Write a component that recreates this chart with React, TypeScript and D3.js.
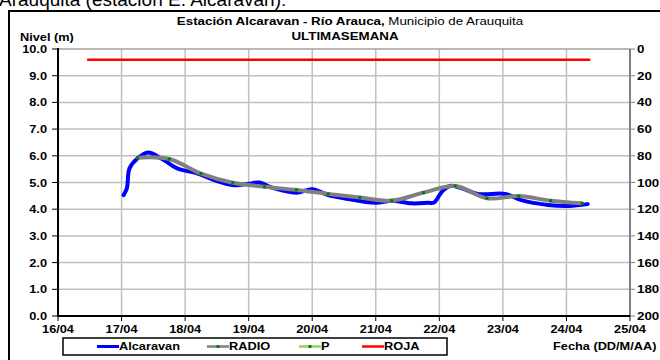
import React from "react";
import * as d3 from "d3";

const dayTicks = ["16/04", "17/04", "18/04", "19/04", "20/04", "21/04", "22/04", "23/04", "24/04", "25/04"];
const levelTicks = [0, 1, 2, 3, 4, 5, 6, 7, 8, 9, 10];
const rightTicks = [0, 20, 40, 60, 80, 100, 120, 140, 160, 180, 200];

const alcTimes = [
  "17/04 00:45", "17/04 02:00", "17/04 03:00", "17/04 06:00", "17/04 10:00", "17/04 15:00",
  "17/04 21:00", "18/04 04:30", "18/04 11:00", "18/04 18:30", "19/04 00:00", "19/04 04:00",
  "19/04 08:30", "19/04 18:00", "20/04 00:00", "20/04 06:00", "20/04 12:00", "21/04 00:00",
  "21/04 06:00", "21/04 13:30", "21/04 19:45", "21/04 22:00", "22/04 01:00", "22/04 04:00",
  "22/04 08:30", "22/04 14:30", "23/04 01:00", "23/04 07:00", "23/04 17:00", "24/04 01:00",
  "24/04 08:00",
];
const alcValues = [
  4.53, 4.78, 5.53, 5.9, 6.12, 5.9,
  5.53, 5.34, 5.09, 4.9, 4.95, 5.0,
  4.82, 4.62, 4.75, 4.53, 4.41, 4.24,
  4.32, 4.22, 4.24, 4.25, 4.66, 4.87,
  4.78, 4.57, 4.57, 4.34, 4.16, 4.12,
  4.19,
];

const radioTimes = [
  "17/04 06:00", "17/04 18:00", "18/04 06:00", "18/04 18:00", "19/04 06:00", "19/04 18:00",
  "20/04 06:00", "20/04 18:00", "21/04 06:00", "21/04 18:00", "22/04 06:00", "22/04 18:00",
  "23/04 06:00", "23/04 18:00", "24/04 06:00",
];
const radioValues = [5.93, 5.88, 5.33, 4.99, 4.84, 4.72, 4.57, 4.44, 4.32, 4.62, 4.87, 4.41, 4.49, 4.32, 4.22];

const rojaTimes = ["16/04 11:00", "24/04 09:00"];
const rojaValues = [9.6, 9.6];

const legendItems = ["Alcaravan", "RADIO", "P", "ROJA"];

const FONT = "'Liberation Sans', Arial, sans-serif";
const SX = 1.16;

const parse = d3.timeParse("%d/%m %H:%M");

function Txt({ x, y, children, anchor = "start", size = 11, weight = "bold", fill = "#000" }: any) {
  return (
    <text
      transform={`translate(${x},${y}) scale(${SX},1)`}
      textAnchor={anchor}
      fontSize={size}
      fontWeight={weight}
      fontFamily={FONT}
      fill={fill}
    >
      {children}
    </text>
  );
}

export default function App() {
  const W = 660;
  const H = 360;
  const x0 = 58, x1 = 630, yTop = 49, yBot = 316;

  const x = d3.scaleTime().domain([parse(dayTicks[0] + " 00:00")!, parse(dayTicks[dayTicks.length - 1] + " 00:00")!]).range([x0, x1]);
  const y = d3.scaleLinear().domain([0, 10]).range([yBot, yTop]);
  const y2 = d3.scaleLinear().domain([0, 200]).range([yTop, yBot]);

  const line = d3
    .line<[Date, number]>()
    .x((d) => x(d[0]))
    .y((d) => y(d[1]))
    .curve(d3.curveCatmullRom.alpha(0.5));
  const straight = d3
    .line<[Date, number]>()
    .x((d) => x(d[0]))
    .y((d) => y(d[1]));

  const alc: [Date, number][] = alcTimes.map((t, i) => [parse(t)!, alcValues[i]]);
  const radio: [Date, number][] = radioTimes.map((t, i) => [parse(t)!, radioValues[i]]);
  const roja: [Date, number][] = rojaTimes.map((t, i) => [parse(t)!, rojaValues[i]]);

  const legendX = [97, 207, 299, 362];

  return (
    <svg width={W} height={H} style={{ position: "absolute", left: 0, top: 0 }}>
      <rect x={0} y={0} width={W} height={H} fill="#fff" />
      <text x={-1} y={6} fontSize={19} fontFamily={FONT} fill="#000">
        Arauquita (estación E. Alcaravan):
      </text>
      <rect x={9} y={11} width={700} height={400} fill="none" stroke="#000" strokeWidth={2} />

      <Txt x={20} y={41}>Nivel (m)</Txt>
      <text
        transform={`translate(350,25) scale(${SX},1)`}
        textAnchor="middle"
        fontSize={11.5}
        fontFamily={FONT}
      >
        <tspan fontWeight="bold">Estación Alcaravan - Río Arauca,</tspan>
        <tspan> Municipio de Arauquita</tspan>
      </text>
      <Txt x={345} y={40} anchor="middle" size={11.5}>ULTIMASEMANA</Txt>

      {/* grid */}
      {levelTicks.slice(1, -1).map((v) => (
        <line key={"h" + v} x1={x0} x2={x1} y1={y(v)} y2={y(v)} stroke="#c0c0c0" strokeWidth={1.5} />
      ))}
      {dayTicks.slice(1, -1).map((d) => {
        const xx = x(parse(d + " 00:00")!);
        return <line key={"v" + d} x1={xx} x2={xx} y1={yTop} y2={yBot} stroke="#c0c0c0" strokeWidth={1.5} />;
      })}
      <line x1={x0} x2={x1} y1={yTop} y2={yTop} stroke="#a0a0a0" strokeWidth={1.5} />

      {/* axes */}
      <line x1={x1} x2={x1} y1={yTop} y2={yBot} stroke="#808080" strokeWidth={2} />
      {rightTicks.map((v) => (
        <g key={"r" + v}>
          <line x1={x1} x2={x1 + 5} y1={y2(v)} y2={y2(v)} stroke="#808080" strokeWidth={1} />
          <Txt x={x1 + 7} y={y2(v) + 4} size={11.5}>{v}</Txt>
        </g>
      ))}
      <line x1={x0} x2={x0} y1={yTop - 1} y2={yBot + 1} stroke="#000" strokeWidth={2} />
      {levelTicks.map((v) => (
        <g key={"l" + v}>
          <line x1={x0 - 6} x2={x0} y1={y(v)} y2={y(v)} stroke="#000" strokeWidth={1} />
          <Txt x={47} y={y(v) + 4} anchor="end">{v.toFixed(1)}</Txt>
        </g>
      ))}
      <line x1={x0} x2={x1} y1={yBot} y2={yBot} stroke="#000" strokeWidth={2} />
      {dayTicks.map((d) => {
        const xx = x(parse(d + " 00:00")!);
        return (
          <g key={"b" + d}>
            <line x1={xx} x2={xx} y1={yBot} y2={yBot + 5} stroke="#000" strokeWidth={1} />
            <Txt x={xx} y={333} anchor="middle">{d}</Txt>
          </g>
        );
      })}

      {/* series */}
      <path d={straight(roja)!} fill="none" stroke="#ff0000" strokeWidth={2.5} />
      <path d={line(alc)!} fill="none" stroke="#0000ff" strokeWidth={4} strokeLinejoin="round" strokeLinecap="round" />
      <path d={line(radio)!} fill="none" stroke="#808080" strokeWidth={4} strokeLinejoin="round" />
      {radio.map((d, i) => (
        <rect key={"m" + i} x={x(d[0]) - 1.5} y={y(d[1]) - 1.5} width={3} height={3} fill="#008000" />
      ))}

      {/* legend */}
      <rect x={63} y={338} width={384} height={17} fill="#fff" stroke="#000" strokeWidth={1.5} />
      {legendItems.map((name, i) => {
        const lx = legendX[i];
        const col = ["#0000ff", "#808080", "#99cc66", "#ff0000"][i];
        return (
          <g key={name}>
            <line x1={lx} x2={lx + 22} y1={346.5} y2={346.5} stroke={col} strokeWidth={i === 0 ? 3 : 2.5} />
            {(i === 1 || i === 2) && <rect x={lx + 9.5} y={345} width={3} height={3} fill="#008000" />}
            <Txt x={lx + 22} y={350} size={11}>{name}</Txt>
          </g>
        );
      })}
      <Txt x={553} y={350}>Fecha (DD/M/AA)</Txt>
    </svg>
  );
}
